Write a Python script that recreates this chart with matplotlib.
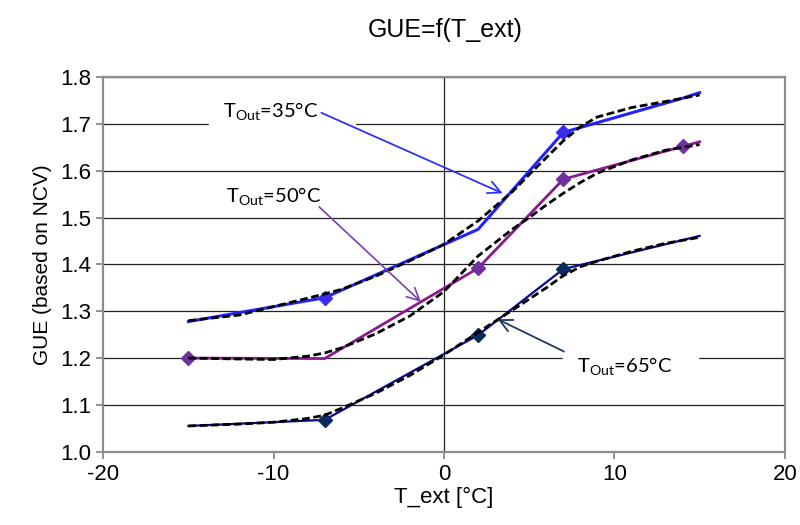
import matplotlib
matplotlib.use("Agg")
import matplotlib.pyplot as plt
from matplotlib.patches import Rectangle

plt.rcParams["font.family"] = ["Liberation Sans", "DejaVu Sans"]
plt.rcParams["mathtext.fontset"] = "custom"
plt.rcParams["mathtext.rm"] = "Lato"
plt.rcParams["axes.unicode_minus"] = False

# ========== 数据 ==========
t_ext = [-15, -7, 2, 7, 14, 15]

gue_35 = [1.278, 1.329, 1.475, 1.682, 1.755, 1.767]
gue_50 = [1.200, 1.199, 1.392, 1.582, 1.652, 1.662]
gue_65 = [1.055, 1.068, 1.249, 1.390, 1.452, 1.461]

# which points carry a marker
mark_35 = [1, 3]
mark_50 = [0, 2, 3, 4]
mark_65 = [1, 2, 3]

# fitted curves (dashed)
t_fit = [-15, -12, -10, -8, -7, -6, -4, -2, 0, 2, 4, 5, 6, 7, 8, 9, 11, 13, 15]
fit_35 = [1.280, 1.292, 1.310, 1.328, 1.337, 1.347, 1.375, 1.408, 1.443, 1.493, 1.555,
          1.592, 1.628, 1.664, 1.694, 1.715, 1.735, 1.748, 1.762]
fit_50 = [1.200, 1.198, 1.197, 1.204, 1.211, 1.222, 1.252, 1.290, 1.342, 1.418, 1.475,
          1.500, 1.527, 1.552, 1.575, 1.595, 1.623, 1.644, 1.656]
fit_65 = [1.055, 1.059, 1.063, 1.071, 1.078, 1.093, 1.125, 1.163, 1.207, 1.255, 1.302,
          1.326, 1.350, 1.376, 1.395, 1.407, 1.428, 1.445, 1.458]

title = "GUE=f(T_ext)"
xlabel = "T_ext [°C]"
ylabel = "GUE (based on NCV)"

# ========== 绘图 ==========
fig = plt.figure(figsize=(8, 5.25), dpi=100)
ax = fig.add_axes([0.129, 0.1396, 0.852, 0.7134])

ax.set_xlim(-20, 20)
ax.set_ylim(1.0, 1.8)
ax.set_xticks([-20, -10, 0, 10, 20])
ax.set_yticks([1.0 + 0.1 * i for i in range(9)])
ax.set_yticklabels([f"{1.0 + 0.1 * i:.1f}" for i in range(9)])
ax.tick_params(labelsize=16, direction="out", length=5, color="#808080", width=1.2)

ax.grid(axis="y", color="#222222", lw=0.9, zorder=1)
ax.axvline(0, color="#222222", lw=0.9, zorder=1)
for s in ax.spines.values():
    s.set_color("#8c8c8c")
    s.set_linewidth(1.6)

ax.plot(t_ext, gue_35, color="#2222ff", lw=2.2, marker="D", ms=7.5,
        markevery=mark_35, mfc="#3a2cf0", mec="#3a2cf0", zorder=3)
ax.plot(t_ext, gue_50, color="#8b1a8b", lw=2.0, marker="D", ms=7.5,
        markevery=mark_50, mfc="#7030a0", mec="#7030a0", zorder=3)
ax.plot(t_ext, gue_65, color="#0a0a90", lw=1.6, marker="D", ms=7.5,
        markevery=mark_65, mfc="#0b2a5e", mec="#0b2a5e", zorder=3)

for fit in (fit_35, fit_50, fit_65):
    ax.plot(t_fit, fit, color="black", lw=2.0, ls=(0, (2.8, 1.3)), zorder=4)

# ========== 标注 ==========
ax.add_patch(Rectangle((-13.8, 1.69), 8.6, 0.07, color="white", zorder=2))
ax.add_patch(Rectangle((7.0, 1.15), 7.9, 0.065, color="white", zorder=2))

lab_kw = dict(fontsize=14.5, family=["Lato", "DejaVu Sans"], ha="center", va="center", zorder=6)
ax.text(-10.15, 1.726, r"T$_{\mathrm{Out}}$=35°C", **lab_kw)
ax.text(-9.97, 1.544, r"T$_{\mathrm{Out}}$=50°C", **lab_kw)
ax.text(10.6, 1.181, r"T$_{\mathrm{Out}}$=65°C", **lab_kw)

ax.annotate("", xy=(3.44, 1.552), xytext=(-7.2, 1.724), zorder=5,
            arrowprops=dict(arrowstyle="->,head_length=0.9,head_width=0.45",
                            color="#3030ff", lw=1.3, shrinkA=0, shrinkB=0))
ax.annotate("", xy=(-1.35, 1.32), xytext=(-7.33, 1.523), zorder=5,
            arrowprops=dict(arrowstyle="->,head_length=0.9,head_width=0.45",
                            color="#7a3fb0", lw=1.2, shrinkA=0, shrinkB=0))
ax.annotate("", xy=(3.15, 1.283), xytext=(7.04, 1.214), zorder=5,
            arrowprops=dict(arrowstyle="->,head_length=0.9,head_width=0.45",
                            color="#1f3864", lw=1.3, shrinkA=0, shrinkB=0))

fig.text(0.557, 0.943, title, fontsize=18, ha="center", va="center")
ax.set_xlabel(xlabel, fontsize=16, labelpad=2)
ax.set_ylabel(ylabel, fontsize=15, labelpad=6)

fig.savefig("out.png", dpi=100)
